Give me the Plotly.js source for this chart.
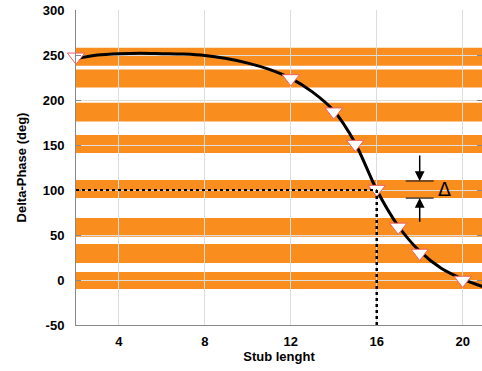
<!DOCTYPE html>
<html><head><meta charset="utf-8">
<script src="https://cdn.plot.ly/plotly-3.0.1.min.js"></script>
<style>html,body{margin:0;padding:0;background:#fff}#chart{width:482px;height:371px}</style>
</head><body><div id="chart"></div>
<script>
// Data
const curveX = [2, 3, 4, 5, 6, 7, 8, 9, 10, 11, 12, 13, 14, 15, 16, 17, 18, 19, 20, 21];
const curveY = [246, 250, 251.5, 252, 251.5, 251, 249.5, 246, 241, 234, 224, 209, 188, 152, 100, 60, 32, 13, 1, -8];
const markerX = [2, 12, 14, 15, 16, 17, 18, 20];
const markerY = [248, 224, 187, 151, 101, 59, 30, 0];
const bandLow = [238, 214, 176, 141, 91, 48, 19, -10];
const bandHigh = [258, 234, 197, 161, 111, 69, 40, 9];
const targetX = 16;
const targetY = 100;
const deltaX = 18;
const deltaLow = 91;
const deltaHigh = 110;
const xTicks = [4, 8, 12, 16, 20];
const yTicks = [-50, 0, 50, 100, 150, 200, 250, 300];

const shapes = [];
for (let i = 0; i < bandLow.length; i++) {
  shapes.push({type: 'rect', xref: 'paper', x0: 0, x1: 1, yref: 'y', y0: bandLow[i], y1: bandHigh[i],
    fillcolor: '#F98D1E', line: {width: 0}, layer: 'below'});
}
// dashed guide lines
shapes.push({type: 'line', xref: 'x', yref: 'y', x0: 2, x1: targetX, y0: targetY, y1: targetY,
  line: {color: '#000', width: 2, dash: 'dot'}});
shapes.push({type: 'line', xref: 'x', yref: 'y', x0: targetX, x1: targetX, y0: targetY, y1: -50,
  line: {color: '#000', width: 2.5, dash: 'dot'}});
// delta level lines
[deltaLow, deltaHigh].forEach(v => shapes.push({type: 'line', xref: 'x', yref: 'y', x0: deltaX - 0.65, x1: deltaX + 0.65, y0: v, y1: v,
  line: {color: '#222', width: 1.2}}));

const annotations = [
  {x: deltaX, y: deltaHigh, xref: 'x', yref: 'y', ax: deltaX, ay: 140, axref: 'x', ayref: 'y',
   showarrow: true, arrowhead: 2, arrowsize: 1.3, arrowwidth: 1.5, arrowcolor: '#000', text: ''},
  {x: deltaX, y: deltaLow, xref: 'x', yref: 'y', ax: deltaX, ay: 63, axref: 'x', ayref: 'y',
   showarrow: true, arrowhead: 2, arrowsize: 1.3, arrowwidth: 1.5, arrowcolor: '#000', text: ''},
  {x: 19.15, y: 101, xref: 'x', yref: 'y', text: 'Δ', showarrow: false,
   font: {family: 'DejaVu Sans, Arial', size: 19, color: '#000'}}
];

const traces = [
  {x: curveX, y: curveY, mode: 'lines', line: {color: '#000', width: 3, shape: 'spline', smoothing: 0.8}, hoverinfo: 'skip'},
  {x: markerX, y: markerY, mode: 'markers', cliponaxis: false,
   marker: {symbol: 'triangle-down', size: 15, color: '#fff', line: {color: '#F06060', width: 1}}}
];

const layout = {
  width: 482, height: 371,
  margin: {l: 76, r: 0, t: 10, b: 46},
  paper_bgcolor: '#fff', plot_bgcolor: '#fff',
  showlegend: false,
  font: {family: 'Liberation Sans, Arial, sans-serif', color: '#000'},
  xaxis: {range: [2, 20.9], tickvals: xTicks, ticktext: xTicks.map(String), showgrid: true, gridcolor: '#ddd', gridwidth: 1,
    zeroline: false, showline: true, linecolor: '#888', linewidth: 1, ticks: '', ticklabelstandoff: 4,
    tickfont: {size: 13, family: 'Liberation Sans, Arial', weight: 'bold'},
    title: {text: '<b>Stub lenght</b>', font: {size: 13}, standoff: 4}},
  yaxis: {range: [-50, 300], tickvals: yTicks, ticktext: yTicks.map(String), showgrid: true, gridcolor: '#ddd', gridwidth: 1,
    zeroline: false, showline: true, linecolor: '#888', linewidth: 1, ticks: 'inside', ticklen: 5, tickcolor: '#888', mirror: 'ticks',
    ticklabelstandoff: 8,
    tickfont: {size: 13, family: 'Liberation Sans, Arial', weight: 'bold'},
    title: {text: '<b>Delta-Phase (deg)</b>', font: {size: 13}, standoff: 13}},
  shapes: shapes,
  annotations: annotations
};

Plotly.newPlot('chart', traces, layout, {displayModeBar: false, staticPlot: true});
</script>
</body></html>
